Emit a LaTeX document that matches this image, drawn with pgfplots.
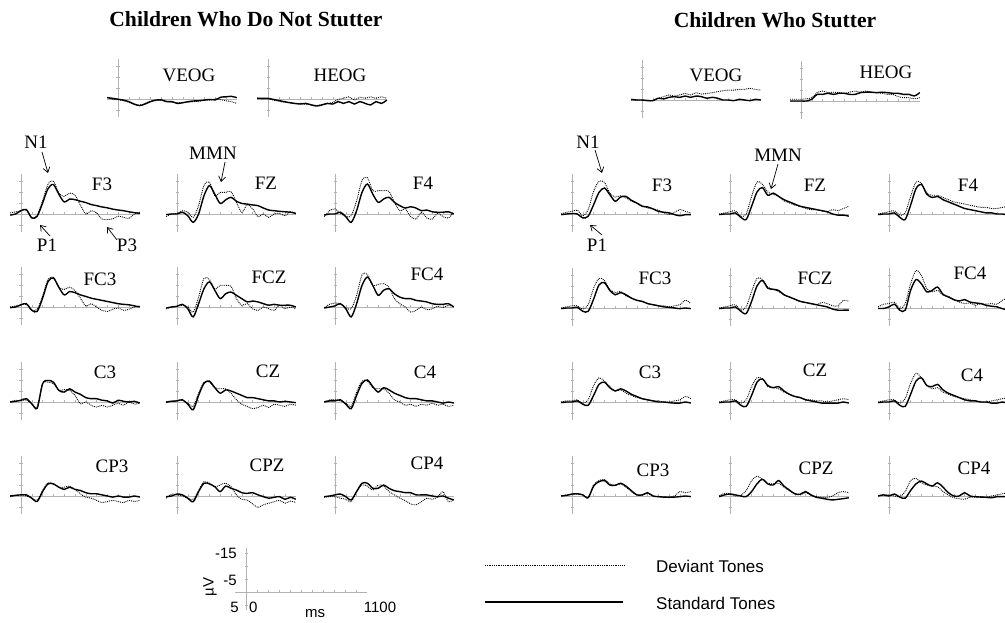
\documentclass[border=0pt]{standalone}
\usepackage{fontspec}
\setmainfont{Liberation Serif}
\newfontfamily\arial{Liberation Sans}
\usepackage{pgfplots}
\pgfplotsset{compat=1.18}
\usetikzlibrary{arrows.meta}

\pgfplotsset{
  erp/.style={anchor=origin, x=0.108pt, y=2.2pt, y dir=reverse,
    xmin=-100, xmax=1100, ymin=-18, ymax=8,
    axis lines=middle, axis line style={gray!60, -, line width=0.5pt},
    xtick={100,200,...,1000}, ytick={-15,-10,-5,5},
    xticklabels={}, yticklabels={},
    major tick style={gray!60, line width=0.5pt}, major tick length=3pt,
    tick align=center, clip=false},
  dev/.style={black, densely dotted, line width=0.9pt, smooth, no markers},
  std/.style={black, line width=1.4pt, smooth, no markers},
}

% #1 x of the y axis, #2 baseline (px from top), #3 deviant, #4 standard
\newcommand{\erp}[4]{%
\begin{axis}[erp, at={(#1pt,623pt-#2pt)}]
\addplot[dev] coordinates {#3};
\addplot[std] coordinates {#4};
\end{axis}}

\begin{document}
\begin{tikzpicture}
\useasboundingbox (0,0) rectangle (1005pt,623pt);

%% Children Who Do Not Stutter
\erp{118}{99}
{(-100,-0.8)(-50,0.2)(0,0.3)(50,0.8)(100,1.5)(150,2.5)(200,2.8)(250,2.0)(300,1.0)(350,0.8)(400,0.5)(450,1.0)(500,1.5)(550,1.8)(600,1.5)(650,1.5)(700,1.2)(750,1.0)(800,0.5)(850,0.5)(900,0.0)(950,0.3)(1000,0.8)(1050,1.2)(1100,2.0)}
{(-100,-0.6)(-50,-0.3)(0,0.1)(50,0.5)(100,1.2)(150,2.3)(200,3.0)(250,2.3)(300,1.2)(350,0.5)(400,0.4)(450,1.2)(500,1.2)(550,2.0)(600,1.7)(650,1.2)(700,0.9)(750,0.8)(800,0.5)(850,0.2)(900,0.4)(950,-0.8)(1000,-1.0)(1050,-1.2)(1100,-0.6)}
\erp{268}{99}
{(-100,-0.5)(-50,0.0)(0,0.0)(50,0.5)(100,1.0)(150,1.5)(200,1.5)(250,2.2)(300,2.0)(350,2.5)(400,2.5)(450,3.0)(500,2.5)(550,2.2)(600,1.5)(650,0.2)(700,-0.3)(750,-1.0)(800,0.5)(850,-0.8)(900,-0.3)(950,-1.0)(1000,-0.3)(1050,-1.0)(1100,-0.3)}
{(-100,-0.3)(-50,-0.3)(0,-0.3)(50,0.2)(100,0.7)(150,1.2)(200,1.7)(250,2.0)(300,2.3)(350,2.0)(400,2.7)(450,3.2)(500,2.7)(550,2.0)(600,2.3)(650,1.2)(700,2.0)(750,1.2)(800,2.3)(850,1.2)(900,2.0)(950,2.7)(1000,1.2)(1050,2.0)(1100,0.5)}
\erp{21}{214}
{(-100,-0.5)(-50,-1.0)(0,-1.5)(50,-1.8)(100,1.8)(150,0.5)(200,-6.0)(250,-13.5)(300,-15.0)(350,-9.5)(400,-8.0)(450,-9.5)(500,-8.5)(550,-4.0)(600,0.0)(650,-1.5)(700,-0.5)(750,2.3)(800,2.5)(850,2.2)(900,1.0)(950,1.5)(1000,2.0)(1050,0.0)(1100,-0.8)}
{(-100,0.5)(-50,0.0)(0,-1.5)(50,-2.0)(100,1.8)(150,1.0)(200,-5.0)(250,-11.5)(300,-13.4)(350,-9.0)(400,-5.5)(450,-6.8)(500,-6.5)(550,-5.8)(600,-5.2)(650,-4.3)(700,-3.8)(750,-3.2)(800,-2.8)(850,-2.2)(900,-1.8)(950,-1.5)(1000,-1.0)(1050,-0.6)(1100,-0.3)}
\erp{177}{214}
{(-100,1.2)(-50,0.0)(0,-0.3)(50,-1.5)(100,-0.8)(150,1.5)(200,-3.8)(250,-13.0)(300,-14.5)(350,-8.3)(400,-9.8)(450,-9.8)(500,-10.2)(550,-5.3)(600,-0.8)(650,-4.2)(700,-2.3)(750,1.2)(800,0.0)(850,1.5)(900,0.0)(950,-0.3)(1000,0.8)(1050,-1.0)(1100,0.0)}
{(-100,0.3)(-50,0.0)(0,0.0)(50,-0.8)(100,0.8)(150,3.8)(200,0.0)(250,-8.3)(300,-12.9)(350,-9.0)(400,-4.8)(450,-6.4)(500,-7.6)(550,-5.8)(600,-4.8)(650,-4.5)(700,-4.1)(750,-3.8)(800,-2.7)(850,-1.8)(900,-1.5)(950,-1.2)(1000,-1.0)(1050,-0.8)(1100,-0.3)}
\erp{335}{214}
{(-100,1.2)(-50,-1.5)(0,-2.3)(50,-0.3)(100,1.2)(150,0.8)(200,-6.0)(250,-15.2)(300,-16.5)(350,-10.6)(400,-10.6)(450,-10.6)(500,-10.3)(550,-5.3)(600,-1.5)(650,-2.3)(700,1.2)(750,2.3)(800,-0.8)(850,1.8)(900,2.3)(950,-0.3)(1000,1.2)(1050,1.8)(1100,-0.8)}
{(-100,0.5)(-50,0.0)(0,0.0)(50,-0.8)(100,1.2)(150,3.8)(200,-1.5)(250,-9.8)(300,-13.6)(350,-9.0)(400,-5.3)(450,-6.8)(500,-7.6)(550,-5.3)(600,-3.8)(650,-2.7)(700,-3.3)(750,-2.7)(800,-1.5)(850,-1.8)(900,-1.0)(950,-0.8)(1000,-0.8)(1050,-1.0)(1100,0.0)}
\erp{21}{307}
{(-100,0.0)(-50,-0.5)(0,-1.0)(50,-1.2)(100,1.5)(150,1.0)(200,-5.0)(250,-12.5)(300,-13.5)(350,-9.0)(400,-8.0)(450,-9.0)(500,-7.5)(550,-4.0)(600,-0.5)(650,-1.5)(700,0.0)(750,1.5)(800,2.0)(850,1.0)(900,0.5)(950,1.5)(1000,1.0)(1050,0.0)(1100,-0.5)}
{(-100,0.3)(-50,0.0)(0,-1.0)(50,-1.5)(100,1.5)(150,2.0)(200,-4.0)(250,-11.5)(300,-13.2)(350,-9.0)(400,-5.5)(450,-7.0)(500,-6.5)(550,-5.5)(600,-4.8)(650,-4.0)(700,-3.5)(750,-3.0)(800,-2.5)(850,-2.0)(900,-1.5)(950,-1.2)(1000,-1.0)(1050,-0.5)(1100,0.0)}
\erp{177}{307}
{(-100,0.8)(-50,0.0)(0,-0.3)(50,-0.8)(100,0.0)(150,2.3)(200,-4.5)(250,-13.0)(300,-12.5)(350,-8.3)(400,-9.8)(450,-9.8)(500,-9.4)(550,-3.8)(600,-0.8)(650,-1.5)(700,0.8)(750,1.5)(800,0.0)(850,0.8)(900,1.5)(950,-0.8)(1000,0.8)(1050,0.0)(1100,0.8)}
{(-100,0.5)(-50,0.0)(0,-0.3)(50,-1.2)(100,0.8)(150,4.5)(200,-1.5)(250,-8.3)(300,-11.4)(350,-7.6)(400,-3.8)(450,-6.0)(500,-6.8)(550,-5.3)(600,-3.8)(650,-2.3)(700,-2.7)(750,-2.3)(800,-1.5)(850,-0.8)(900,-1.2)(950,-0.8)(1000,-0.8)(1050,-0.8)(1100,0.0)}
\erp{335}{307}
{(-100,0.3)(-50,-1.2)(0,-1.8)(50,-1.5)(100,0.3)(150,0.8)(200,-5.3)(250,-14.5)(300,-14.8)(350,-9.8)(400,-10.3)(450,-10.6)(500,-9.0)(550,-3.8)(600,-1.5)(650,0.0)(700,2.3)(750,1.5)(800,0.0)(850,1.2)(900,0.8)(950,-0.3)(1000,0.3)(1050,-0.8)(1100,0.0)}
{(-100,0.5)(-50,0.0)(0,-0.5)(50,-1.5)(100,0.8)(150,4.5)(200,-1.5)(250,-9.8)(300,-13.6)(350,-9.8)(400,-5.3)(450,-7.6)(500,-8.3)(550,-6.0)(600,-4.5)(650,-3.8)(700,-3.8)(750,-3.0)(800,-2.7)(850,-2.3)(900,-1.5)(950,-1.2)(1000,-1.2)(1050,-1.5)(1100,0.0)}
\erp{21}{402}
{(-100,0.0)(-50,-0.8)(0,-0.5)(50,-1.0)(100,1.0)(150,2.0)(200,-8.3)(250,-9.0)(300,-8.3)(350,-5.3)(400,-5.6)(450,-5.3)(500,-3.0)(550,0.8)(600,0.0)(650,1.5)(700,2.3)(750,1.5)(800,2.3)(850,1.5)(900,0.5)(950,1.5)(1000,0.0)(1050,1.0)(1100,0.5)}
{(-100,0.0)(-50,-0.3)(0,-0.8)(50,-1.5)(100,0.8)(150,2.8)(200,-8.3)(250,-9.8)(300,-9.0)(350,-5.3)(400,-4.5)(450,-6.0)(500,-4.5)(550,-3.5)(600,-2.0)(650,-1.5)(700,-1.5)(750,-0.8)(800,-0.5)(850,0.5)(900,-0.8)(950,-0.3)(1000,0.0)(1050,-0.3)(1100,0.5)}
\erp{177}{402}
{(-100,0.3)(-50,-0.5)(0,-0.5)(50,-0.8)(100,0.5)(150,2.0)(200,-4.0)(250,-9.0)(300,-9.0)(350,-6.5)(400,-6.0)(450,-6.0)(500,-4.0)(550,-1.0)(600,1.0)(650,2.0)(700,3.0)(750,2.5)(800,1.5)(850,2.5)(900,1.0)(950,1.5)(1000,2.0)(1050,1.0)(1100,1.5)}
{(-100,0.0)(-50,-0.3)(0,-0.5)(50,-1.0)(100,1.0)(150,3.5)(200,-3.0)(250,-8.5)(300,-9.5)(350,-6.5)(400,-4.0)(450,-5.5)(500,-5.0)(550,-4.0)(600,-3.0)(650,-2.0)(700,-2.0)(750,-1.5)(800,-1.0)(850,-0.5)(900,-0.5)(950,0.0)(1000,-0.3)(1050,0.0)(1100,0.3)}
\erp{335}{402}
{(-100,0.0)(-50,-1.0)(0,-1.0)(50,-0.5)(100,0.5)(150,2.0)(200,-4.5)(250,-9.5)(300,-9.5)(350,-6.5)(400,-6.0)(450,-6.0)(500,-4.0)(550,-1.0)(600,0.0)(650,1.5)(700,1.0)(750,2.0)(800,1.0)(850,1.5)(900,0.5)(950,1.5)(1000,1.0)(1050,2.0)(1100,1.5)}
{(-100,0.0)(-50,-0.5)(0,-0.5)(50,-1.0)(100,1.0)(150,3.0)(200,-3.0)(250,-8.5)(300,-10.0)(350,-7.0)(400,-4.5)(450,-6.5)(500,-5.5)(550,-4.0)(600,-3.0)(650,-2.0)(700,-1.5)(750,-1.5)(800,-1.0)(850,-0.5)(900,-0.5)(950,0.0)(1000,0.5)(1050,0.0)(1100,0.5)}
\erp{21}{496}
{(-100,0.3)(-50,-0.3)(0,-0.5)(50,0.0)(100,1.0)(150,2.0)(200,-2.5)(250,-6.0)(300,-5.5)(350,-4.0)(400,-4.0)(450,-4.5)(500,-3.0)(550,-1.0)(600,0.5)(650,1.0)(700,2.0)(750,3.0)(800,2.5)(850,2.0)(900,2.5)(950,3.0)(1000,2.0)(1050,2.5)(1100,2.0)}
{(-100,0.0)(-50,-0.3)(0,-0.5)(50,-0.5)(100,1.0)(150,2.5)(200,-2.0)(250,-5.5)(300,-5.5)(350,-4.0)(400,-3.0)(450,-4.0)(500,-3.0)(550,-2.5)(600,-1.5)(650,-1.0)(700,-1.0)(750,-0.5)(800,0.0)(850,0.5)(900,0.0)(950,0.5)(1000,0.5)(1050,0.0)(1100,0.5)}
\erp{177}{496}
{(-100,1.0)(-50,-0.9)(0,-0.5)(50,0.0)(100,1.0)(150,1.5)(200,-2.4)(250,-6.5)(300,-5.8)(350,-4.2)(400,-5.0)(450,-5.8)(500,-4.2)(550,-0.5)(600,1.5)(650,1.8)(700,3.6)(750,5.2)(800,4.0)(850,3.3)(900,2.6)(950,2.0)(1000,3.3)(1050,2.3)(1100,3.0)}
{(-100,0.3)(-50,0.0)(0,-0.9)(50,-0.5)(100,1.0)(150,2.6)(200,-2.0)(250,-5.8)(300,-5.5)(350,-4.2)(400,-2.0)(450,-4.5)(500,-3.5)(550,-2.7)(600,-1.5)(650,-1.2)(700,-1.5)(750,-0.5)(800,0.3)(850,1.0)(900,0.6)(950,0.3)(1000,1.5)(1050,0.6)(1100,1.5)}
\erp{335}{496}
{(-100,0.6)(-50,0.3)(0,0.3)(50,1.0)(100,1.5)(150,2.6)(200,-2.0)(250,-5.0)(300,-4.5)(350,-2.7)(400,-5.0)(450,-4.5)(500,-2.0)(550,-0.5)(600,1.0)(650,2.1)(700,3.6)(750,4.0)(800,2.6)(850,1.0)(900,1.5)(950,0.5)(1000,-2.0)(1050,2.6)(1100,1.5)}
{(-100,0.3)(-50,0.0)(0,-0.5)(50,-0.9)(100,0.3)(150,1.8)(200,-2.0)(250,-5.8)(300,-5.8)(350,-3.5)(400,-3.5)(450,-5.0)(500,-3.5)(550,-2.4)(600,-2.0)(650,-1.5)(700,-1.5)(750,-0.5)(800,-0.5)(850,-0.5)(900,0.0)(950,0.3)(1000,0.0)(1050,1.0)(1100,1.8)}

%% Children Who Stutter
\erp{642}{100}
{(-100,0.0)(-50,0.0)(0,0.0)(50,0.0)(100,0.3)(150,-0.8)(200,-1.5)(250,-2.3)(300,-1.8)(350,-2.3)(400,-3.0)(450,-2.3)(500,-3.3)(550,-2.7)(600,-3.0)(650,-3.3)(700,-3.8)(750,-4.2)(800,-4.5)(850,-4.5)(900,-4.8)(950,-4.8)(1000,-5.3)(1050,-4.8)(1100,-4.5)}
{(-100,-0.3)(-50,0.0)(0,0.0)(50,0.3)(100,0.3)(150,-0.8)(200,-0.5)(250,-1.2)(300,-1.5)(350,-1.2)(400,-1.8)(450,-1.2)(500,-1.8)(550,-1.5)(600,-0.8)(650,-1.2)(700,-0.8)(750,0.0)(800,0.0)(850,0.3)(900,-0.3)(950,0.0)(1000,0.3)(1050,-0.3)(1100,0.0)}
\erp{801}{101}
{(-100,-0.8)(-50,-0.8)(0,-0.8)(50,-1.0)(100,-1.5)(150,-3.8)(200,-4.5)(250,-3.8)(300,-4.0)(350,-3.8)(400,-3.5)(450,-4.0)(500,-4.5)(550,-4.0)(600,-4.5)(650,-4.0)(700,-3.8)(750,-3.5)(800,-3.0)(850,-3.0)(900,-2.0)(950,-1.5)(1000,-1.5)(1050,-1.0)(1100,-1.5)}
{(-100,0.0)(-50,0.0)(0,0.0)(50,0.0)(100,-0.8)(150,-3.0)(200,-3.0)(250,-3.5)(300,-3.0)(350,-3.5)(400,-3.5)(450,-3.0)(500,-3.0)(550,-3.8)(600,-4.0)(650,-4.0)(700,-3.8)(750,-4.0)(800,-3.8)(850,-3.5)(900,-3.5)(950,-3.0)(1000,-3.0)(1050,-2.3)(1100,-3.8)}
\erp{572}{214}
{(-100,0.0)(-50,-0.8)(0,-1.2)(50,-1.7)(100,0.8)(150,-2.0)(200,-10.3)(250,-14.8)(300,-14.4)(350,-9.5)(400,-7.7)(450,-8.3)(500,-7.3)(550,-5.8)(600,-5.0)(650,-3.8)(700,-2.7)(750,-2.3)(800,-1.7)(850,-0.5)(900,0.3)(950,-0.8)(1000,-2.0)(1050,-1.2)(1100,-0.5)}
{(-100,0.3)(-50,0.0)(0,-0.2)(50,0.0)(100,1.8)(150,1.0)(200,-4.2)(250,-9.8)(300,-11.8)(350,-8.8)(400,-5.8)(450,-7.7)(500,-8.0)(550,-6.2)(600,-5.0)(650,-3.5)(700,-3.2)(750,-2.3)(800,-1.2)(850,-0.8)(900,-0.5)(950,0.3)(1000,0.8)(1050,0.3)(1100,0.3)}
\erp{730}{214}
{(-100,0.0)(-50,-0.5)(0,-1.0)(50,-1.5)(100,1.0)(150,0.0)(200,-8.0)(250,-14.5)(300,-13.5)(350,-10.0)(400,-9.0)(450,-8.0)(500,-6.0)(550,-5.0)(600,-4.0)(650,-3.5)(700,-2.5)(750,-2.0)(800,-2.0)(850,-1.5)(900,-1.0)(950,-2.0)(1000,-1.5)(1050,-2.5)(1100,-3.5)}
{(-100,0.3)(-50,0.0)(0,0.0)(50,-0.5)(100,1.5)(150,2.5)(200,-3.5)(250,-10.0)(300,-12.0)(350,-8.5)(400,-9.5)(450,-8.0)(500,-6.5)(550,-5.5)(600,-4.5)(650,-3.5)(700,-3.0)(750,-2.5)(800,-2.0)(850,-1.5)(900,-1.0)(950,0.0)(1000,0.5)(1050,0.5)(1100,1.0)}
\erp{889}{214}
{(-100,0.0)(-50,-0.5)(0,-1.0)(50,-1.5)(100,0.5)(150,-0.5)(200,-8.0)(250,-14.5)(300,-14.0)(350,-9.5)(400,-8.5)(450,-8.5)(500,-7.5)(550,-6.5)(600,-5.5)(650,-5.0)(700,-4.5)(750,-4.0)(800,-3.5)(850,-3.0)(900,-3.0)(950,-2.5)(1000,-2.5)(1050,-3.0)(1100,-3.5)}
{(-100,0.3)(-50,0.0)(0,0.0)(50,-0.5)(100,1.5)(150,2.5)(200,-4.0)(250,-11.5)(300,-13.5)(350,-9.0)(400,-7.5)(450,-8.0)(500,-6.5)(550,-5.5)(600,-4.5)(650,-3.5)(700,-2.5)(750,-2.0)(800,-1.5)(850,-1.0)(900,-0.5)(950,-0.5)(1000,0.0)(1050,0.0)(1100,0.5)}
\erp{572}{308}
{(-100,0.0)(-50,-0.5)(0,-1.0)(50,-1.0)(100,0.5)(150,-1.5)(200,-9.0)(250,-13.5)(300,-12.5)(350,-8.5)(400,-7.0)(450,-7.5)(500,-5.5)(550,-4.5)(600,-3.5)(650,-3.0)(700,-2.0)(750,-1.5)(800,-1.0)(850,-1.0)(900,-0.5)(950,-1.0)(1000,-1.5)(1050,-3.5)(1100,-2.0)}
{(-100,0.3)(-50,0.0)(0,0.0)(50,-0.3)(100,1.5)(150,1.5)(200,-4.0)(250,-10.5)(300,-11.5)(350,-8.0)(400,-6.0)(450,-7.0)(500,-6.0)(550,-4.5)(600,-3.5)(650,-3.0)(700,-2.0)(750,-1.5)(800,-1.0)(850,-0.5)(900,-0.3)(950,0.0)(1000,0.3)(1050,0.0)(1100,0.3)}
\erp{730}{308}
{(-100,0.0)(-50,-0.5)(0,-1.0)(50,-1.5)(100,1.0)(150,-0.5)(200,-7.5)(250,-13.5)(300,-13.0)(350,-9.5)(400,-8.5)(450,-7.5)(500,-6.0)(550,-5.0)(600,-4.0)(650,-3.0)(700,-2.5)(750,-2.0)(800,-1.5)(850,-2.5)(900,-2.0)(950,-1.0)(1000,-1.0)(1050,-3.5)(1100,-3.0)}
{(-100,0.3)(-50,0.0)(0,0.0)(50,-0.5)(100,1.5)(150,2.5)(200,-3.0)(250,-10.0)(300,-12.5)(350,-9.0)(400,-8.5)(450,-8.0)(500,-6.0)(550,-5.0)(600,-4.0)(650,-3.0)(700,-2.5)(750,-2.0)(800,-1.5)(850,-1.0)(900,-0.5)(950,0.5)(1000,1.0)(1050,1.0)(1100,1.0)}
\erp{889}{308}
{(-100,-0.5)(-50,-1.7)(0,-2.0)(50,-2.7)(100,0.3)(150,-2.0)(200,-11.0)(250,-17.0)(300,-14.8)(350,-8.8)(400,-7.3)(450,-8.0)(500,-5.8)(550,-5.3)(600,-3.8)(650,-2.7)(700,-2.0)(750,-2.3)(800,-1.2)(850,-2.0)(900,-1.7)(950,-2.0)(1000,-1.7)(1050,-3.5)(1100,-4.7)}
{(-100,0.2)(-50,0.2)(0,-0.5)(50,-1.7)(100,1.0)(150,1.0)(200,-8.0)(250,-12.9)(300,-11.0)(350,-7.3)(400,-8.0)(450,-9.5)(500,-6.2)(550,-5.0)(600,-3.8)(650,-3.2)(700,-3.8)(750,-2.7)(800,-2.3)(850,-2.0)(900,-1.2)(950,-0.8)(1000,-0.5)(1050,0.3)(1100,1.0)}
\erp{572}{402}
{(-100,0.0)(-50,-0.5)(0,-0.5)(50,-1.0)(100,0.5)(150,-1.0)(200,-7.5)(250,-11.0)(300,-9.5)(350,-7.0)(400,-5.0)(450,-5.5)(500,-4.0)(550,-3.0)(600,-2.0)(650,-1.5)(700,-1.0)(750,-0.5)(800,-0.5)(850,0.0)(900,0.0)(950,-0.5)(1000,-1.0)(1050,-2.5)(1100,-1.5)}
{(-100,0.3)(-50,0.0)(0,0.0)(50,-0.5)(100,1.0)(150,1.5)(200,-3.0)(250,-8.0)(300,-9.0)(350,-6.5)(400,-5.0)(450,-6.0)(500,-5.0)(550,-3.5)(600,-2.5)(650,-1.5)(700,-1.0)(750,-0.5)(800,0.0)(850,0.0)(900,0.3)(950,0.5)(1000,0.5)(1050,0.0)(1100,0.5)}
\erp{730}{402}
{(-100,0.0)(-50,-0.5)(0,-1.0)(50,-1.0)(100,0.5)(150,-1.0)(200,-7.0)(250,-11.0)(300,-10.5)(350,-7.0)(400,-6.5)(450,-6.0)(500,-4.5)(550,-3.5)(600,-2.5)(650,-2.0)(700,-1.0)(750,-1.0)(800,-0.5)(850,-0.5)(900,0.0)(950,-0.5)(1000,-1.0)(1050,-1.5)(1100,-1.0)}
{(-100,0.3)(-50,0.0)(0,0.0)(50,-0.5)(100,1.5)(150,2.0)(200,-3.0)(250,-9.0)(300,-10.5)(350,-7.5)(400,-6.5)(450,-7.0)(500,-5.0)(550,-3.5)(600,-2.5)(650,-2.0)(700,-1.0)(750,-0.5)(800,0.0)(850,0.5)(900,0.5)(950,0.5)(1000,0.5)(1050,0.0)(1100,0.5)}
\erp{889}{402}
{(-100,0.0)(-50,-0.5)(0,-1.0)(50,-1.0)(100,0.5)(150,-1.5)(200,-8.5)(250,-13.0)(300,-11.0)(350,-7.5)(400,-6.0)(450,-6.5)(500,-4.5)(550,-3.5)(600,-2.5)(650,-2.0)(700,-1.5)(750,-1.0)(800,-0.5)(850,0.0)(900,0.0)(950,-0.5)(1000,-1.0)(1050,-1.5)(1100,-2.0)}
{(-100,0.3)(-50,0.0)(0,0.0)(50,-0.5)(100,1.5)(150,2.0)(200,-3.5)(250,-9.5)(300,-11.0)(350,-7.5)(400,-7.0)(450,-8.0)(500,-5.5)(550,-4.0)(600,-3.0)(650,-2.0)(700,-1.0)(750,-0.5)(800,-0.5)(850,0.0)(900,0.0)(950,0.5)(1000,0.5)(1050,0.0)(1100,0.5)}
\erp{572}{496}
{(-100,0.0)(-50,-0.5)(0,-0.5)(50,-0.9)(100,-0.5)(150,0.5)(200,-5.0)(250,-7.0)(300,-7.5)(350,-5.5)(400,-5.0)(450,-5.5)(500,-4.0)(550,-2.0)(600,-0.5)(650,-0.3)(700,-1.2)(750,0.0)(800,0.3)(850,0.5)(900,0.3)(950,0.0)(1000,-2.0)(1050,-1.5)(1100,-2.0)}
{(-100,0.0)(-50,-0.3)(0,-0.9)(50,-1.0)(100,-0.5)(150,0.8)(200,-4.5)(250,-6.5)(300,-7.0)(350,-5.0)(400,-4.8)(450,-5.8)(500,-4.5)(550,-2.4)(600,-0.5)(650,-0.5)(700,-1.5)(750,0.0)(800,0.3)(850,0.5)(900,0.6)(950,0.5)(1000,0.3)(1050,0.0)(1100,0.3)}
\erp{730}{496}
{(-100,0.0)(-50,-1.2)(0,-0.9)(50,0.0)(100,-0.3)(150,-2.5)(200,-7.0)(250,-9.0)(300,-7.5)(350,-5.8)(400,-5.5)(450,-5.8)(500,-4.0)(550,-2.5)(600,-1.0)(650,-0.5)(700,-1.5)(750,-0.3)(800,0.3)(850,0.6)(900,0.6)(950,0.0)(1000,-1.5)(1050,-2.0)(1100,-1.5)}
{(-100,0.3)(-50,-0.5)(0,-0.9)(50,-0.5)(100,0.0)(150,0.3)(200,-2.0)(250,-5.5)(300,-7.6)(350,-5.5)(400,-5.0)(450,-7.0)(500,-4.5)(550,-2.7)(600,-1.0)(650,-0.8)(700,-2.0)(750,-0.5)(800,0.6)(850,1.0)(900,1.5)(950,1.8)(1000,1.5)(1050,1.2)(1100,0.8)}
\erp{889}{496}
{(-100,0.0)(-50,-0.5)(0,-0.5)(50,0.0)(100,0.3)(150,-2.0)(200,-7.0)(250,-8.0)(300,-6.0)(350,-5.0)(400,-4.5)(450,-4.2)(500,-2.0)(550,-0.5)(600,0.8)(650,1.2)(700,1.5)(750,0.5)(800,0.6)(850,0.3)(900,0.5)(950,0.0)(1000,-0.5)(1050,-1.0)(1100,-1.5)}
{(-100,0.0)(-50,-0.5)(0,0.0)(50,-0.9)(100,0.5)(150,1.0)(200,-2.5)(250,-5.5)(300,-6.8)(350,-5.5)(400,-4.5)(450,-6.0)(500,-4.0)(550,-1.5)(600,0.0)(650,0.0)(700,-1.5)(750,0.0)(800,0.3)(850,0.5)(900,0.6)(950,0.8)(1000,0.3)(1050,0.3)(1100,0.3)}

%% scale axis
\begin{axis}[anchor=origin, at={(246pt,623pt-592pt)}, x=0.11pt, y=2.6pt, y dir=reverse,
  xmin=-100, xmax=1100, ymin=-17, ymax=7,
  axis lines=middle, axis line style={gray!60, -, line width=0.5pt},
  xtick={100,200,...,1000}, ytick={-15,-10,-5,5},
  xticklabels={}, yticklabels={},
  major tick style={gray!60, line width=0.5pt}, major tick length=3pt, tick align=center]
\end{axis}

\begin{scope}[x=1pt, y=-1pt, yshift=623pt]
  \begin{scope}[font=\fontsize{21.6}{24}\selectfont\bfseries]
    \node at (246,19) {Children Who Do Not Stutter};
    \node at (775,20) {Children Who Stutter};
  \end{scope}
  \begin{scope}[font=\fontsize{19}{19}\selectfont, inner sep=0pt]
    \node at (189,75) {VEOG}; \node at (340,75) {HEOG};
    \node at (716,75) {VEOG}; \node at (886,72) {HEOG};
    \node at (102,184) {F3}; \node at (266,183) {FZ}; \node at (423,183) {F4};
    \node at (100,279) {FC3}; \node at (269,277) {FCZ}; \node at (427,274) {FC4};
    \node at (105,372) {C3}; \node at (268,371) {CZ}; \node at (425,372) {C4};
    \node at (112,466) {CP3}; \node at (267,465) {CPZ}; \node at (427,463) {CP4};
    \node at (662,185) {F3}; \node at (815,185) {FZ}; \node at (968,185) {F4};
    \node at (655,278) {FC3}; \node at (815,278) {FCZ}; \node at (970,273) {FC4};
    \node at (650,372) {C3}; \node at (815,370) {CZ}; \node at (972,375) {C4};
    \node at (653,470) {CP3}; \node at (816,468) {CPZ}; \node at (974,468) {CP4};
    \node at (36,142) {N1}; \node at (47,245) {P1}; \node at (127,245) {P3};
    \node at (213,153) {MMN};
    \node at (588,142) {N1}; \node at (597,245) {P1}; \node at (778,155) {MMN};
  \end{scope}
  \begin{scope}[line width=0.7pt, -{Straight Barb[length=5pt,width=7pt]}]
    \draw (42,152) -- (48,173);
    \draw (50,236) -- (40,225);
    \draw (117,240) -- (107,227);
    \draw (225,162) -- (221,182);
    \draw (595,150) -- (602,173);
    \draw (602,235) -- (590,225);
    \draw (778,164) -- (771,189);
  \end{scope}
  \begin{scope}[font=\arial\fontsize{15}{15}\selectfont, inner sep=0pt]
    \node[anchor=east] at (237,553) {-15};
    \node[anchor=east] at (237,580) {-5};
    \node[anchor=east] at (239,607) {5};
    \node[anchor=west] at (249,607) {0};
    \node at (380,607) {1100};
    \node at (315,614) {ms};
    \node[rotate=90] at (210,587) {µV};
  \end{scope}
  \draw[densely dotted, line width=0.8pt] (485,565) -- (625,565);
  \draw[line width=1.4pt] (485,602) -- (623,602);
  \begin{scope}[font=\arial\fontsize{17}{17}\selectfont, inner sep=0pt]
    \node[anchor=west] at (656,566) {Deviant Tones};
    \node[anchor=west] at (656,603) {Standard Tones};
  \end{scope}
\end{scope}
\end{tikzpicture}
\end{document}
